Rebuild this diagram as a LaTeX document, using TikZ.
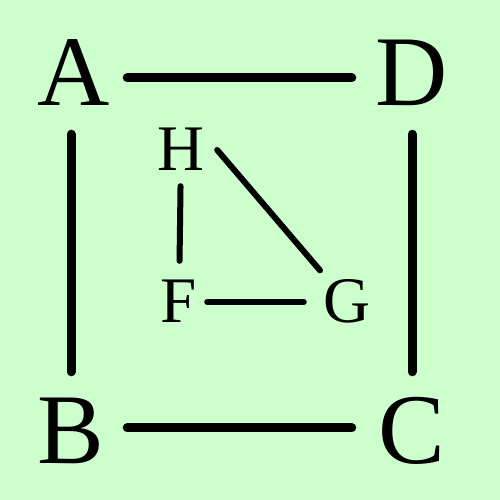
\documentclass[tikz,border=0pt]{standalone}
\usepackage{fontspec}
\setmainfont{Liberation Serif}
\usetikzlibrary{positioning}

\tikzset{
	corner/.style={inner sep=0pt, minimum width=112pt, minimum height=112pt, font=\fontsize{100}{100}\selectfont},
	cornertop/.style={corner, text height=66pt, text depth=10pt},
	cornerbot/.style={corner, text height=72pt, text depth=0pt},
	inner/.style={inner sep=0pt, minimum width=72pt, minimum height=72pt, text height=42pt, text depth=0pt, font=\fontsize{65}{65}\selectfont},
	thick line/.style={line width=9pt, line cap=round},
	thin line/.style={line width=6pt, line cap=round}
}

\begin{document}
\begin{tikzpicture}[x=1pt, y=1pt]
	\fill[green!20] (0,0) rectangle (500,500);
	\useasboundingbox (0,0) rectangle (500,500);

	\node[cornertop] (A) at (71,422) {\hspace{6pt}A};
	\node[cornertop] (D) at (412,422) {D};
	\node[cornerbot] (B) at (71,72) {B};
	\node[cornerbot] (C) at (412,72) {C};

	\node[inner] (H) at (181,350) {H};
	\node[inner] (F) at (179,198) {F};
	\node[inner] (G) at (347,198) {G};

	\begin{scope}[thick line]
		\draw[shorten >=4pt] (A) -- (D);
		\draw (A) -- (B);
		\draw (D) -- (C);
		\draw[shorten >=4pt] (B) -- (C);
	\end{scope}

	\begin{scope}[thin line]
		\draw[shorten >=5pt] (H) -- (F);
		\draw[shorten <=-8pt, shorten >=7pt] (F) -- (G);
		\draw[shorten >=-6pt] (H.east) -- (G);
	\end{scope}
\end{tikzpicture}
\end{document}
